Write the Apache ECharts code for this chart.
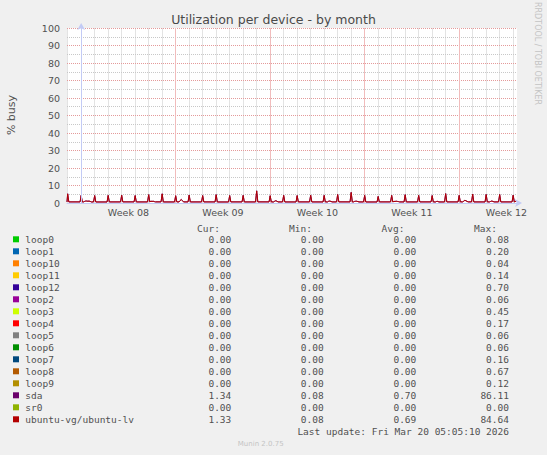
<!DOCTYPE html>
<html><head><meta charset="utf-8">
<script src="https://cdn.jsdelivr.net/npm/echarts@6/dist/echarts.min.js"></script>
<style>html,body{margin:0;padding:0;background:#f0f0f0}#c{width:547px;height:455px}</style>
</head><body><div id="c"></div>
<script>
// ---- axis / time data (hours from Mon 16 Feb 2026 00:00, start of Week 08) ----
const xStartHour = -25.2;
const xEndHour = 774.8;
const weekLabels = ['Week 08', 'Week 09', 'Week 10', 'Week 11', 'Week 12'];
const weekStartHours = [0, 168, 336, 504, 672];
const weekMidHours = [84, 252, 420, 588, 756];
const dayStep = 24, weekStep = 168;
const firstDayLine = -24, lastDayLine = 768;
const yTickStep = 10;

// ---- series data: daily spike at 00:00, Feb 15 .. Mar 20 ----
const lvPeak  = [5.2,4.3,4.2,4.3,4.4,4.2,4.7,5.2,4.1,4.5,4.2,4.7,4.2,4.3,6.9,4.1,4.3,4.2,4.4,4.3,4.8,6.0,4.3,3.7,4.3,4.7,4.3,4.2,5.3,4.3,5.0,4.8,4.8,4.4];
const sdaPeak = [5.3,4.4,4.3,4.4,4.5,4.3,4.8,5.3,4.2,4.6,4.3,4.8,4.3,4.4,7.0,4.2,4.4,4.3,4.5,4.4,4.9,6.1,4.4,3.8,4.4,4.8,4.4,4.3,5.4,4.4,5.1,4.9,4.9,4.5];
const lvBase  = [0.62,0.60,0.58,0.61,0.63,0.60,0.64,0.59,0.62,0.60,0.61,0.58,0.62,0.60,0.63,0.61,0.59,0.62,0.60,0.61,0.63,0.60,0.58,0.62,0.61,0.60,0.62,0.59,0.61,0.63,0.60,0.62,0.61,0.60];
const sdaBase = [0.63,0.61,0.59,0.62,0.64,0.61,0.65,0.60,0.63,0.61,0.62,0.59,0.63,0.61,0.64,0.62,0.60,0.63,0.61,0.62,0.64,0.61,0.59,0.63,0.62,0.61,0.63,0.60,0.62,0.64,0.61,0.63,0.62,0.61];
// [day index, hours after midnight, values]
const lvBumps = [
  [1,[6,8,10,12,14,16],[0.9,1.1,1.1,1.0,1.1,0.9]],
  [6,[4,6,8,10],[1.0,0.9,1.0,0.8]],
  [8,[8,10,12],[1.4,2.0,1.3]],
  [15,[8,10,12],[1.0,1.3,1.0]],
  [19,[8,10,12],[1.0,1.1,0.9]],
  [21,[6,8,10,12],[0.9,1.0,1.0,0.8]],
  [24,[4,6,8,10,12],[0.9,0.9,1.0,0.9,0.8]],
  [27,[8,10],[0.9,0.9]],
  [29,[8,10,12,14],[1.0,1.5,1.3,0.9]],
  [31,[8,10,12],[0.9,1.1,0.9]]
];
const sdaBumps = [
  [1,[6,8,10,12,14,16],[0.91,1.12,1.11,1.02,1.11,0.91]],
  [6,[4,6,8,10],[1.01,0.92,1.01,0.81]],
  [8,[8,10,12],[1.42,2.03,1.31]],
  [15,[8,10,12],[1.01,1.32,1.01]],
  [19,[8,10,12],[1.01,1.12,0.91]],
  [21,[6,8,10,12],[0.91,1.01,1.02,0.81]],
  [24,[4,6,8,10,12],[0.91,0.91,1.02,0.91,0.81]],
  [27,[8,10],[0.91,0.92]],
  [29,[8,10,12,14],[1.01,1.52,1.31,0.91]],
  [31,[8,10,12],[0.91,1.12,0.91]]
];
const lvCurrent = 1.33;
const sdaCurrent = 1.34;
const zeroLine = [[xStartHour, 0], [xEndHour, 0]];

// ---- legend table ----
const legendNames  = ['loop0','loop1','loop10','loop11','loop12','loop2','loop3','loop4','loop5','loop6','loop7','loop8','loop9','sda','sr0','ubuntu-vg/ubuntu-lv'];
const legendColors = ['#00CC00','#0066B3','#FF8000','#FFCC00','#330099','#990099','#CCFF00','#FF0000','#808080','#008F00','#00487D','#B35A00','#B38F00','#6B006B','#8FB300','#B30000'];
const curVals = [0,0,0,0,0,0,0,0,0,0,0,0,0,1.34,0,1.33];
const minVals = [0,0,0,0,0,0,0,0,0,0,0,0,0,0.08,0,0.08];
const avgVals = [0,0,0,0,0,0,0,0,0,0,0,0,0,0.70,0,0.69];
const maxVals = [0.08,0.20,0.04,0.14,0.70,0.06,0.45,0.17,0.06,0.06,0.16,0.67,0.12,86.11,0.00,84.64];
const lastUpdate = 'Last update: Fri Mar 20 05:05:10 2026';

function buildPoints(peak, base, bumps, endVal) {
  const pts = [[xStartHour, base[0]]];
  for (let i = 0; i < peak.length; i++) {
    const t0 = 24 * (i - 1);
    const b = base[i];
    if (t0 - 2 > xStartHour) pts.push([t0 - 2, i > 0 ? base[i - 1] : base[0]]);
    pts.push([t0, peak[i]]);
    pts.push([t0 + 2, b]);
    bumps.filter(bb => bb[0] === i).forEach(bb => {
      const hs = bb[1], vs = bb[2];
      pts.push([t0 + hs[0] - 2, b]);
      hs.forEach((h, k) => pts.push([t0 + h, vs[k]]));
      pts.push([t0 + hs[hs.length - 1] + 2, b]);
    });
  }
  pts.push([xEndHour, endVal]);
  pts.sort((a, b) => a[0] - b[0]);
  return pts;
}

// ---- layout ----
const W = 547, plotLeft = 67, plotRight = 517, plotTop = 28, plotBottom = 203;
const pxPerHour = (plotRight - plotLeft) / (xEndHour - xStartHour);
const hourToPx = h => plotLeft + (h - xStartHour) * pxPerHour;
const gBottom = 455 - plotBottom;
const dayGrid = { left: hourToPx(firstDayLine), right: W - hourToPx(lastDayLine), top: plotTop, bottom: gBottom, show: false };
const weekGrid = { left: hourToPx(weekStartHours[0]), right: W - hourToPx(weekStartHours[weekStartHours.length - 1]), top: plotTop, bottom: gBottom, show: false };

const txt = '#505050';
const gridCol = '#c8c8c8', mgridCol = '#e49a9a', axisCol = '#c3cbf5';
const vGridCol = '#e3e3e3', vMGridCol = '#f1bcbc';

const series = legendNames.map((n, i) => {
  let data = zeroLine, z = 0;
  if (n === 'sda') { data = buildPoints(sdaPeak, sdaBase, sdaBumps, sdaCurrent); z = 6; }
  if (n === 'ubuntu-vg/ubuntu-lv') { data = buildPoints(lvPeak, lvBase, lvBumps, lvCurrent); z = 7; }
  return {
    name: n, type: 'line', data: data, xAxisIndex: 0, yAxisIndex: 0, z: z,
    showSymbol: false, symbol: 'none', silent: true,
    lineStyle: { color: legendColors[i], width: 1 }, itemStyle: { color: legendColors[i] }
  };
});

const graphic = [];
graphic.push({ type: 'rect', z: 1, silent: true, shape: { x: plotLeft, y: plotTop, width: plotRight - plotLeft, height: plotBottom - plotTop }, style: { fill: '#ffffff' } });
graphic.push({ type: 'text', x: 273.5, y: 19, style: { text: 'Utilization per device - by month', fill: '#4a4a4a', font: '12.5px "DejaVu Sans"', align: 'center', verticalAlign: 'middle' } });
graphic.push({ type: 'text', x: 11, y: 115, rotation: Math.PI / 2, style: { text: '% busy', fill: txt, font: '11px "DejaVu Sans"', align: 'center', verticalAlign: 'middle' } });
graphic.push({ type: 'text', x: 537, y: 53.5, rotation: -Math.PI / 2, style: { text: 'RRDTOOL / TOBI OETIKER', fill: '#c4c4c4', font: '8px "DejaVu Sans"', align: 'center', verticalAlign: 'middle' } });
const mono = '9.5px "DejaVu Sans Mono"';
const colRight = [231.3, 323.7, 416.3, 509];
const headers = ['Cur:', 'Min:', 'Avg:', 'Max:'];
const headerRight = [220, 312, 404.5, 497];
headers.forEach((h, k) => graphic.push({ type: 'text', x: headerRight[k], y: 228.3, style: { text: h, fill: txt, font: mono, align: 'right', verticalAlign: 'middle' } }));
legendNames.forEach((n, i) => {
  const y = 239.3 + 12 * i;
  graphic.push({ type: 'rect', shape: { x: 13, y: y - 3, width: 6, height: 6 }, style: { fill: legendColors[i] } });
  graphic.push({ type: 'text', x: 25.3, y: y, style: { text: n, fill: txt, font: mono, align: 'left', verticalAlign: 'middle' } });
  [curVals, minVals, avgVals, maxVals].forEach((arr, k) => {
    graphic.push({ type: 'text', x: colRight[k], y: y, style: { text: arr[i].toFixed(2), fill: txt, font: mono, align: 'right', verticalAlign: 'middle' } });
  });
});
graphic.push({ type: 'text', x: 509, y: 431.7, style: { text: lastUpdate, fill: txt, font: mono, align: 'right', verticalAlign: 'middle' } });
graphic.push({ type: 'text', x: 260.7, y: 444.3, style: { text: 'Munin 2.0.75', fill: '#c4c4c4', font: '7px "DejaVu Sans"', align: 'center', verticalAlign: 'middle' } });

const hiddenY = gi => ({ type: 'value', gridIndex: gi, min: 0, max: 100, show: false, splitLine: { show: false } });

const chart = echarts.init(document.getElementById('c'), null, { renderer: 'svg', width: 547, height: 455 });
chart.setOption({
  backgroundColor: '#f0f0f0',
  animation: false,
  grid: [
    { left: plotLeft, right: W - plotRight, top: plotTop, bottom: gBottom, show: false },
    dayGrid,
    weekGrid
  ],
  xAxis: [
    { type: 'value', gridIndex: 0, min: xStartHour, max: xEndHour, position: 'bottom',
      axisLine: { show: false }, axisTick: { show: false }, axisLabel: { show: false }, splitLine: { show: false } },
    { type: 'value', gridIndex: 0, min: xStartHour, max: xEndHour, position: 'bottom', z: 4,
      axisLine: { show: false }, axisTick: { show: false },
      axisLabel: { show: true, customValues: weekMidHours, color: txt, fontSize: 9.5, fontFamily: 'DejaVu Sans', margin: 4,
        formatter: v => weekLabels[weekMidHours.indexOf(v)] },
      splitLine: { show: false } },
    { type: 'value', gridIndex: 0, min: xStartHour, max: xEndHour, position: 'bottom', z: 8,
      axisLine: { show: true, lineStyle: { color: axisCol, width: 1 }, symbol: ['none', 'arrow'], symbolSize: [6, 7], symbolOffset: [0, 5] },
      axisTick: { show: false }, axisLabel: { show: false }, splitLine: { show: false } },
    { type: 'value', gridIndex: 1, min: firstDayLine, max: lastDayLine, interval: dayStep, position: 'bottom', z: 2,
      axisLine: { show: false }, axisTick: { show: false }, axisLabel: { show: false },
      splitLine: { show: true, showMinLine: true, showMaxLine: true, lineStyle: { color: vGridCol, width: 1, type: 'solid' } } },
    { type: 'value', gridIndex: 2, min: weekStartHours[0], max: weekStartHours[weekStartHours.length - 1], interval: weekStep, position: 'bottom', z: 3,
      axisLine: { show: false }, axisTick: { show: false }, axisLabel: { show: false },
      splitLine: { show: true, showMinLine: true, showMaxLine: true, lineStyle: { color: vMGridCol, width: 1, type: 'solid' } } }
  ],
  yAxis: [
    { type: 'value', gridIndex: 0, min: 0, max: 100, interval: yTickStep, z: 3,
      axisLine: { show: false },
      axisTick: { show: false },
      axisLabel: { color: txt, fontSize: 9.5, fontFamily: 'DejaVu Sans', margin: 7 },
      splitLine: { show: true, lineStyle: { color: mgridCol, width: 1, type: [1, 1] } },
      minorTick: { show: false, splitNumber: 2 },
      minorSplitLine: { show: true, lineStyle: { color: gridCol, width: 1, type: [1, 1] } } },
    { type: 'value', gridIndex: 0, min: 0, max: 100, interval: yTickStep, z: 8, position: 'left',
      axisLine: { show: true, lineStyle: { color: axisCol, width: 1 }, symbol: ['none', 'arrow'], symbolSize: [6, 7], symbolOffset: [0, 5] },
      axisTick: { show: false }, axisLabel: { show: false }, splitLine: { show: false } },
    hiddenY(1),
    hiddenY(2)
  ],
  graphic: graphic,
  series: series
});
</script></body></html>
